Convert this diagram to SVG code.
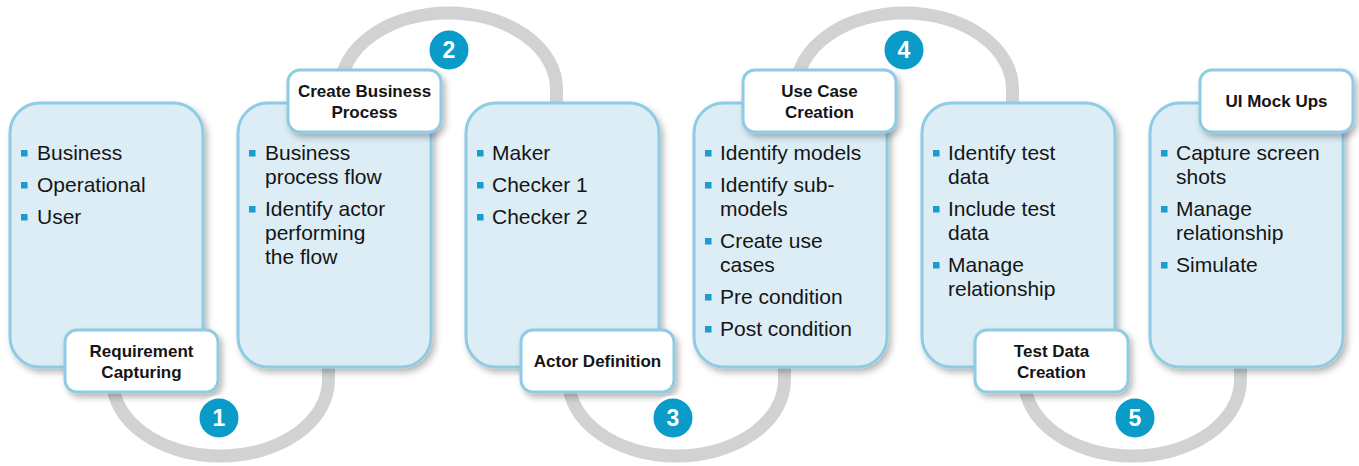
<svg xmlns="http://www.w3.org/2000/svg" width="1359" height="466" viewBox="0 0 1359 466">
<style>
.ring{fill:none;stroke:#d1d2d4;stroke-width:13}
.card{fill:#dcedf6;stroke:#8ecce3;stroke-width:3}
.lbl{fill:#ffffff;stroke:#8ecce3;stroke-width:3}
.t{font-family:"Liberation Sans",Arial,sans-serif;font-size:21px;fill:#151515}
.lt{font-family:"Liberation Sans",Arial,sans-serif;font-size:17px;font-weight:bold;fill:#151515;text-anchor:middle}
.b{fill:#1a9ccc}
.num{fill:#0a9bc8;stroke:#ffffff;stroke-width:3}
.nt{font-family:"Liberation Sans",Arial,sans-serif;font-size:23px;font-weight:bold;fill:#ffffff;text-anchor:middle}
</style>
<defs>
<filter id="sh" x="-20%" y="-20%" width="140%" height="140%">
<feDropShadow dx="3" dy="4" stdDeviation="3" flood-color="#000" flood-opacity="0.28"/>
</filter>
</defs>
<rect width="1359" height="466" fill="#ffffff"/>
<g id="connectors">
<path class="ring" d="M112.5,340 L112.5,380 A108,76 0 0 0 328.5,380 L328.5,340"/>
<path class="ring" d="M340.5,130 L340.5,89 A108,76 0 0 1 556.5,89 L556.5,130"/>
<path class="ring" d="M568.5,340 L568.5,380 A108,76 0 0 0 784.5,380 L784.5,340"/>
<path class="ring" d="M796.5,130 L796.5,89 A108,76 0 0 1 1012.5,89 L1012.5,130"/>
<path class="ring" d="M1024.5,340 L1024.5,380 A108,76 0 0 0 1240.5,380 L1240.5,340"/>
</g>
<g id="card1">
<rect class="card" x="10" y="103" width="193" height="264" rx="30" filter="url(#sh)"/>
<rect class="b" x="21" y="150" width="6.5" height="6.5"/><text class="t" x="37" y="160">Business</text>
<rect class="b" x="21" y="182" width="6.5" height="6.5"/><text class="t" x="37" y="192">Operational</text>
<rect class="b" x="21" y="214" width="6.5" height="6.5"/><text class="t" x="37" y="224">User</text>
</g>
<g id="card2">
<rect class="card" x="238" y="103" width="193" height="264" rx="30" filter="url(#sh)"/>
<rect class="b" x="249" y="150" width="6.5" height="6.5"/><text class="t" x="265" y="160">Business</text>
<text class="t" x="265" y="184">process flow</text>
<rect class="b" x="249" y="206" width="6.5" height="6.5"/><text class="t" x="265" y="216">Identify actor</text>
<text class="t" x="265" y="240">performing</text>
<text class="t" x="265" y="264">the flow</text>
</g>
<g id="card3">
<rect class="card" x="466" y="103" width="193" height="264" rx="30" filter="url(#sh)"/>
<rect class="b" x="477" y="150" width="6.5" height="6.5"/><text class="t" x="492" y="160">Maker</text>
<rect class="b" x="477" y="182" width="6.5" height="6.5"/><text class="t" x="492" y="192">Checker 1</text>
<rect class="b" x="477" y="214" width="6.5" height="6.5"/><text class="t" x="492" y="224">Checker 2</text>
</g>
<g id="card4">
<rect class="card" x="694" y="103" width="193" height="264" rx="30" filter="url(#sh)"/>
<rect class="b" x="705" y="150" width="6.5" height="6.5"/><text class="t" x="720" y="160">Identify models</text>
<rect class="b" x="705" y="182" width="6.5" height="6.5"/><text class="t" x="720" y="192">Identify sub-</text>
<text class="t" x="720" y="216">models</text>
<rect class="b" x="705" y="238" width="6.5" height="6.5"/><text class="t" x="720" y="248">Create use</text>
<text class="t" x="720" y="272">cases</text>
<rect class="b" x="705" y="294" width="6.5" height="6.5"/><text class="t" x="720" y="304">Pre condition</text>
<rect class="b" x="705" y="326" width="6.5" height="6.5"/><text class="t" x="720" y="336">Post condition</text>
</g>
<g id="card5">
<rect class="card" x="922" y="103" width="193" height="264" rx="30" filter="url(#sh)"/>
<rect class="b" x="933" y="150" width="6.5" height="6.5"/><text class="t" x="948" y="160">Identify test</text>
<text class="t" x="948" y="184">data</text>
<rect class="b" x="933" y="206" width="6.5" height="6.5"/><text class="t" x="948" y="216">Include test</text>
<text class="t" x="948" y="240">data</text>
<rect class="b" x="933" y="262" width="6.5" height="6.5"/><text class="t" x="948" y="272">Manage</text>
<text class="t" x="948" y="296">relationship</text>
</g>
<g id="card6">
<rect class="card" x="1150" y="103" width="193" height="264" rx="30" filter="url(#sh)"/>
<rect class="b" x="1161" y="150" width="6.5" height="6.5"/><text class="t" x="1176" y="160">Capture screen</text>
<text class="t" x="1176" y="184">shots</text>
<rect class="b" x="1161" y="206" width="6.5" height="6.5"/><text class="t" x="1176" y="216">Manage</text>
<text class="t" x="1176" y="240">relationship</text>
<rect class="b" x="1161" y="262" width="6.5" height="6.5"/><text class="t" x="1176" y="272">Simulate</text>
</g>
<g id="label1">
<rect class="lbl" x="65" y="330" width="153" height="62" rx="12" filter="url(#sh)"/>
<text class="lt" x="141.5" y="357">Requirement</text>
<text class="lt" x="141.5" y="378">Capturing</text>
</g>
<g id="label2">
<rect class="lbl" x="288" y="70" width="153" height="62" rx="12" filter="url(#sh)"/>
<text class="lt" x="364.5" y="97">Create Business</text>
<text class="lt" x="364.5" y="118">Process</text>
</g>
<g id="label3">
<rect class="lbl" x="521" y="330" width="153" height="62" rx="12" filter="url(#sh)"/>
<text class="lt" x="597.5" y="367">Actor Definition</text>
</g>
<g id="label4">
<rect class="lbl" x="743" y="70" width="153" height="62" rx="12" filter="url(#sh)"/>
<text class="lt" x="819.5" y="97">Use Case</text>
<text class="lt" x="819.5" y="118">Creation</text>
</g>
<g id="label5">
<rect class="lbl" x="975" y="330" width="153" height="62" rx="12" filter="url(#sh)"/>
<text class="lt" x="1051.5" y="357">Test Data</text>
<text class="lt" x="1051.5" y="378">Creation</text>
</g>
<g id="label6">
<rect class="lbl" x="1200" y="70" width="153" height="62" rx="12" filter="url(#sh)"/>
<text class="lt" x="1276.5" y="107">UI Mock Ups</text>
</g>
<g id="step1"><circle class="num" cx="219" cy="418" r="21"/><text class="nt" x="219" y="426">1</text></g>
<g id="step2"><circle class="num" cx="449" cy="50" r="21"/><text class="nt" x="449" y="58">2</text></g>
<g id="step3"><circle class="num" cx="673" cy="418" r="21"/><text class="nt" x="673" y="426">3</text></g>
<g id="step4"><circle class="num" cx="904" cy="50" r="21"/><text class="nt" x="904" y="58">4</text></g>
<g id="step5"><circle class="num" cx="1135" cy="418" r="21"/><text class="nt" x="1135" y="426">5</text></g>
</svg>
